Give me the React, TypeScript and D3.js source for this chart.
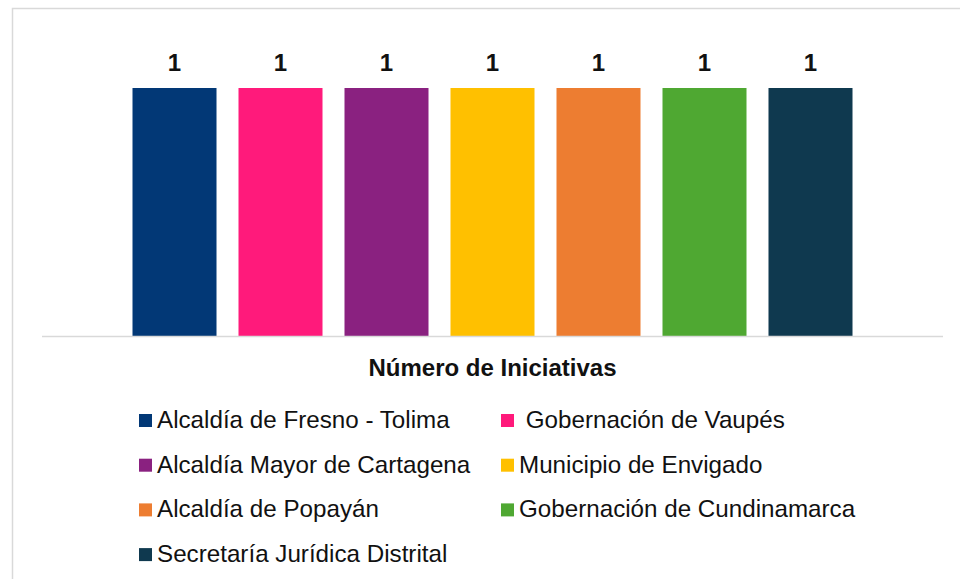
import React from "react";
import * as d3 from "d3";

const seriesNames = [
  "Alcaldía de Fresno - Tolima",
  " Gobernación de Vaupés",
  "Alcaldía Mayor de Cartagena",
  "Municipio de Envigado",
  "Alcaldía de Popayán",
  "Gobernación de Cundinamarca",
  "Secretaría Jurídica Distrital",
];
const seriesValues = [1, 1, 1, 1, 1, 1, 1];
const seriesColors = ["#023876", "#ff1a7b", "#8a2180", "#ffc000", "#ed7d31", "#4fa832", "#0f394f"];
const categoryTitle = "Número de Iniciativas";

const W = 960;
const H = 579;
const FONT = "'Liberation Sans', Arial, Helvetica, sans-serif";

export default function App() {
  const axisLeft = 42;
  const axisRight = 943;
  const axisY = 336;
  const clusterHalf = 360;
  const mid = (axisLeft + axisRight) / 2;

  const x = d3
    .scaleBand<string>()
    .domain(seriesNames)
    .range([mid - clusterHalf, mid + clusterHalf])
    .paddingInner(0.2075)
    .paddingOuter(0);

  const y = d3.scaleLinear().domain([0, 1]).range([axisY, 88]);

  const legendCols = [139, 501];
  const legendRow = d3.scaleLinear().domain([0, 1]).range([428, 472.7]);

  return (
    <svg
      width={W}
      height={H}
      style={{ position: "absolute", left: 0, top: 0, background: "#fff" }}
      fontFamily={FONT}
    >
      <rect x={12.5} y={8.5} width={W + 20} height={H + 20} fill="#fff" stroke="#d9d9d9" strokeWidth={1.5} />
      {seriesNames.map((n, i) => (
        <g key={n}>
          <rect
            x={x(n)!}
            y={y(seriesValues[i])}
            width={x.bandwidth()}
            height={axisY - y(seriesValues[i])}
            fill={seriesColors[i]}
          />
          <text
            x={x(n)! + x.bandwidth() / 2}
            y={y(seriesValues[i]) - 17}
            textAnchor="middle"
            fontSize={24}
            fontWeight="bold"
            fill="#111"
          >
            {seriesValues[i]}
          </text>
        </g>
      ))}
      <line x1={axisLeft} x2={axisRight} y1={axisY + 0.5} y2={axisY + 0.5} stroke="#d9d9d9" strokeWidth={1.5} />
      <text x={mid} y={376} textAnchor="middle" fontSize={24} fontWeight="bold" fill="#111">
        {categoryTitle}
      </text>
      {seriesNames.map((n, i) => {
        const col = i % 2;
        const row = Math.floor(i / 2);
        const lx = legendCols[col];
        const ly = legendRow(row);
        return (
          <g key={"lg" + n}>
            <rect x={lx} y={ly - 14} width={13} height={13} fill={seriesColors[i]} />
            <text x={lx + 18} y={ly} fontSize={24.2} fill="#111" style={{ whiteSpace: "pre" }}>
              {n}
            </text>
          </g>
        );
      })}
    </svg>
  );
}
